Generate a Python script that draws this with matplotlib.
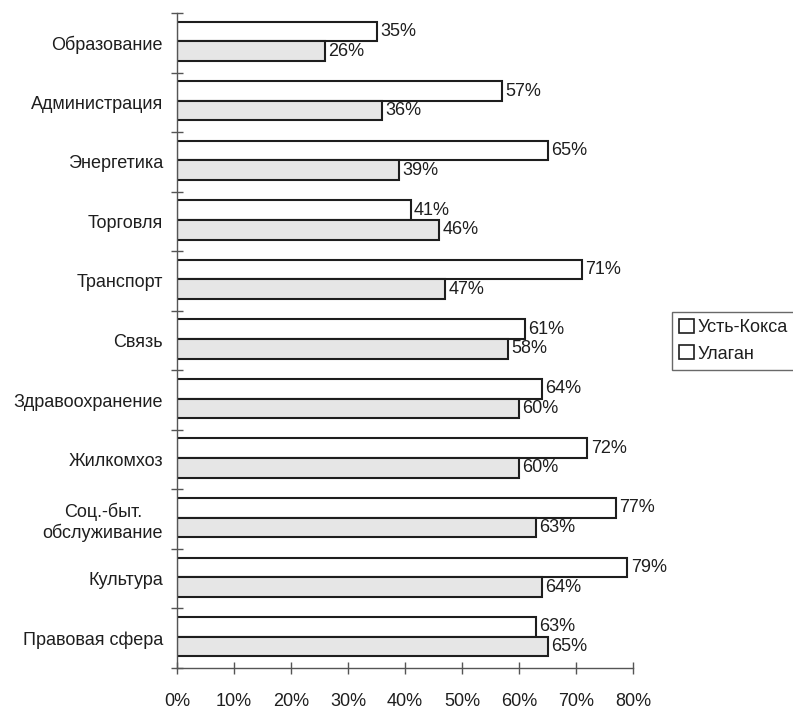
import numpy as np
import matplotlib
matplotlib.use("Agg")
import matplotlib.pyplot as plt
from matplotlib.patches import Patch

plt.rcParams['font.family'] = ['Liberation Sans', 'DejaVu Sans']

# data
categories = ['Образование', 'Администрация', 'Энергетика', 'Торговля', 'Транспорт',
              'Связь', 'Здравоохранение', 'Жилкомхоз', 'Соц.-быт.\nобслуживание',
              'Культура', 'Правовая сфера']
ust_koksa = [35, 57, 65, 41, 71, 61, 64, 72, 77, 79, 63]
ulagan = [26, 36, 39, 46, 47, 58, 60, 60, 63, 64, 65]
series_names = ['Усть-Кокса', 'Улаган']
xticks = [0, 10, 20, 30, 40, 50, 60, 70, 80]

fs = 13
txt = '#1e1e1e'

fig = plt.figure(figsize=(7.93, 7.09), dpi=100)
fig.patch.set_facecolor('white')
ax = fig.add_axes([177/793, 1-668/709, 456/793, 655/709])

y = np.arange(len(categories))
h = 0.33
b1 = ax.barh(y - 0.19, ust_koksa, height=h, color='white', edgecolor=txt, linewidth=1.5)
b2 = ax.barh(y + 0.14, ulagan, height=h, color='#e6e6e6', edgecolor=txt, linewidth=1.5)

for bars, vals in [(b1, ust_koksa), (b2, ulagan)]:
    for bar, v in zip(bars, vals):
        ax.text(v + 0.6, bar.get_y() + bar.get_height()/2, f'{v}%',
                va='center', ha='left', fontsize=fs, color=txt)

ax.set_xlim(0, 80)
ax.set_ylim(len(categories) - 0.5, -0.5)
ax.set_xticks(xticks)
ax.set_xticklabels([f'{t}%' for t in xticks])
ax.set_yticks(y)
ax.set_yticklabels(categories, multialignment='center')
ax.set_yticks(np.arange(-0.5, len(categories), 1), minor=True)

for s in ['top', 'right']:
    ax.spines[s].set_visible(False)
for s in ['left', 'bottom']:
    ax.spines[s].set_color('#555555')
    ax.spines[s].set_linewidth(1)

ax.tick_params(axis='x', direction='inout', length=8, width=1, color='#555555',
               pad=14, labelsize=fs, labelcolor=txt)
ax.tick_params(axis='y', which='major', length=0, pad=10, labelsize=fs, labelcolor=txt)
ax.tick_params(axis='y', which='minor', direction='inout', length=8, width=1, color='#555555')
ax.set_facecolor('none')

handles = [Patch(facecolor='white', edgecolor=txt, linewidth=1.2),
           Patch(facecolor='white', edgecolor=txt, linewidth=1.2)]
leg = fig.legend(handles, series_names, loc='upper left',
                 bbox_to_anchor=(672/793, 1-312/709), fontsize=fs,
                 frameon=True, fancybox=False, handlelength=0.8, handleheight=0.8,
                 handletextpad=0.2, borderpad=0.4, labelspacing=0.5, borderaxespad=0)
leg.get_frame().set_edgecolor('#444444')
leg.get_frame().set_linewidth(1)
for t in leg.get_texts():
    t.set_color(txt)

fig.savefig('out.png', dpi=100)
